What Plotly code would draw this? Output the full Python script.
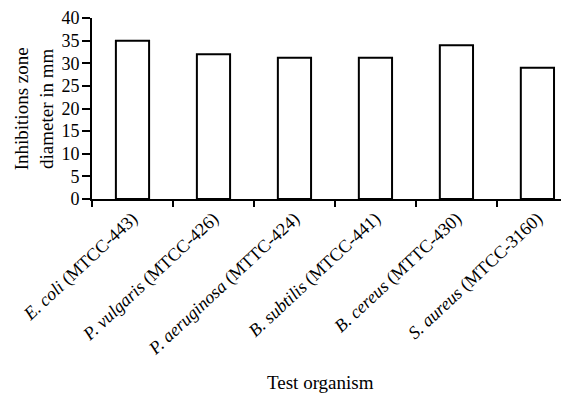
import plotly.graph_objects as go

organisms = [
    "<i>E. coli</i> (MTCC-443)",
    "<i>P. vulgaris</i> (MTCC-426)",
    "<i>P. aeruginosa</i> (MTTC-424)",
    "<i>B. subtilis</i> (MTCC-441)",
    "<i>B. cereus</i> (MTTC-430)",
    "<i>S. aureus</i> (MTCC-3160)",
]
zone_mm = [35, 32, 31.2, 31.2, 34, 29]
y_ticks = [0, 5, 10, 15, 20, 25, 30, 35, 40]

FONT = "Liberation Serif, Times New Roman, serif"

fig = go.Figure(
    go.Bar(
        x=organisms,
        y=zone_mm,
        width=0.41,
        marker=dict(color="white", line=dict(color="black", width=2)),
    )
)

fig.update_layout(
    width=561,
    height=392,
    margin=dict(l=84, r=0, t=8, b=201),
    paper_bgcolor="white",
    plot_bgcolor="white",
    showlegend=False,
    font=dict(family=FONT, size=16, color="black"),
    xaxis=dict(
        type="category",
        range=[-0.5, 5.39],
        tickson="boundaries",
        ticks="outside",
        ticklen=6,
        tickwidth=1.5,
        tickcolor="black",
        tickangle=-43,
        showline=True,
        linecolor="black",
        linewidth=2,
        showgrid=False,
        zeroline=False,
        tickfont=dict(family=FONT, size=18),
    ),
    yaxis=dict(
        range=[0, 40],
        tickvals=y_ticks,
        ticks="outside",
        ticklen=8,
        tickwidth=1.5,
        tickcolor="black",
        ticklabelstandoff=-1,
        ticklabeloverflow="allow",
        showline=True,
        linecolor="black",
        linewidth=2,
        showgrid=False,
        zeroline=False,
        tickfont=dict(family=FONT, size=18),
    ),
    annotations=[
        dict(
            text="Inhibitions zone<br>diameter in mm",
            xref="paper", yref="paper",
            x=-0.122, y=0.5,
            xanchor="center", yanchor="middle",
            textangle=-90,
            showarrow=False,
            font=dict(family=FONT, size=19),
        ),
        dict(
            text="Test organism",
            xref="paper", yref="paper",
            x=0.478, y=-1.016,
            xanchor="center", yanchor="middle",
            showarrow=False,
            font=dict(family=FONT, size=19),
        ),
    ],
)

fig.write_html("out.html")
